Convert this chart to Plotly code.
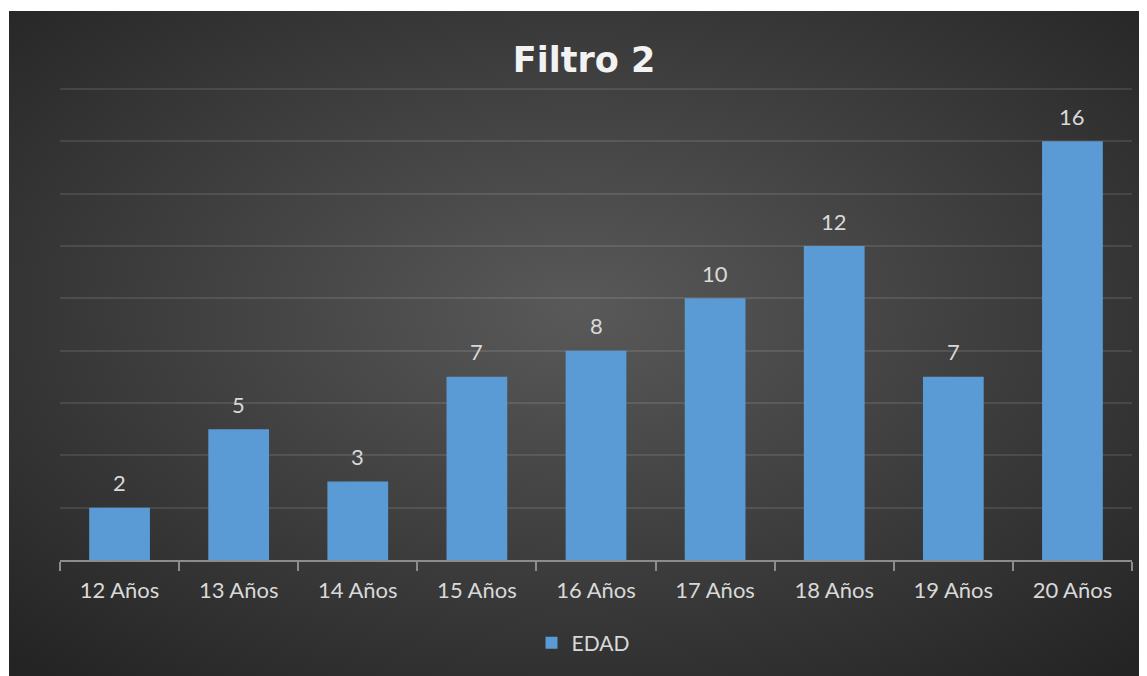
import base64
import plotly.graph_objects as go

categories = ["12 Años", "13 Años", "14 Años", "15 Años", "16 Años",
              "17 Años", "18 Años", "19 Años", "20 Años"]
edad = [2, 5, 3, 7, 8, 10, 12, 7, 16]
series_name = "EDAD"
title_text = "Filtro 2"

# page body has an 8px margin, so figure pixel = reference pixel - 8
OFF = 8
W, H = 1147 - OFF, 676 - OFF
L, R, T = 60 - OFF, 1147 - 1132, 88 - OFF
B = H - (560 - OFF)
pw, ph = W - L - R, H - T - B

bg_x0, bg_y0 = 9 - OFF, 11 - OFF
bg_w, bg_h = W - bg_x0, H - bg_y0

svg = f'''<svg xmlns="http://www.w3.org/2000/svg" width="{bg_w}" height="{bg_h}" preserveAspectRatio="none" viewBox="0 0 {bg_w} {bg_h}">
<defs><radialGradient id="g" cx="50%" cy="45%" r="72%" gradientUnits="objectBoundingBox">
<stop offset="0%" stop-color="#595959"/><stop offset="100%" stop-color="#242424"/></radialGradient></defs>
<rect width="{bg_w}" height="{bg_h}" fill="url(#g)"/></svg>'''
src = "data:image/svg+xml;base64," + base64.b64encode(svg.encode()).decode()

fig = go.Figure()
fig.add_trace(go.Bar(
    x=categories, y=edad, name=series_name,
    marker=dict(color="#5b9bd5", line=dict(width=0)),
))

for c, v in zip(categories, edad):
    fig.add_annotation(x=c, y=v, text=str(v), showarrow=False, yshift=25,
                       font=dict(size=22, color="#d9d9d9", family="Lato"))

fig.add_layout_image(dict(
    source=src, xref="paper", yref="paper",
    x=(bg_x0 - L) / pw, y=(H - B - bg_y0) / ph,
    sizex=bg_w / pw, sizey=bg_h / ph,
    xanchor="left", yanchor="top", sizing="stretch", layer="below",
))

fig.update_layout(
    width=W, height=H,
    margin=dict(l=L, r=R, t=T, b=B),
    paper_bgcolor="white", plot_bgcolor="rgba(0,0,0,0)",
    bargap=0.49,
    title=dict(text=f"<b>{title_text}</b>", x=(584 - OFF) / W, xanchor="center",
               y=1 - (60 - OFF) / H, yanchor="middle",
               font=dict(size=35, color="#f2f2f2", family="DejaVu Sans")),
    font=dict(family="Lato", size=22, color="#d9d9d9"),
    showlegend=True,
    legend=dict(orientation="h", x=(583 - OFF - L) / pw, xanchor="center",
                y=(H - B - (643 - OFF)) / ph, yanchor="middle", itemwidth=30,
                font=dict(size=21, color="#d9d9d9"), bgcolor="rgba(0,0,0,0)"),
    xaxis=dict(showgrid=False, showline=True, linecolor="#8c8c8c", linewidth=2,
               ticks="outside", tickson="boundaries", ticklen=9, tickcolor="#8c8c8c",
               tickwidth=2, ticklabelstandoff=10,
               tickfont=dict(size=22, color="#d9d9d9"), fixedrange=True),
    yaxis=dict(range=[0, 18.04], dtick=2, showgrid=True, gridcolor="rgba(255,255,255,0.1)",
               gridwidth=2, showticklabels=False, zeroline=False, fixedrange=True),
)

fig.write_html("out.html")
